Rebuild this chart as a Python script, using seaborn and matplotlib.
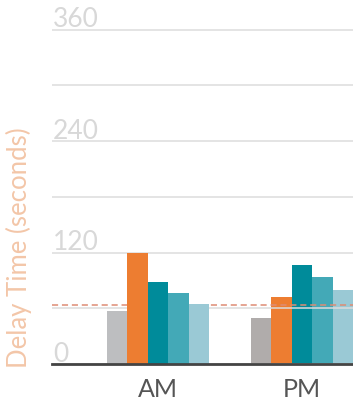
import matplotlib
matplotlib.use("Agg")
import matplotlib.pyplot as plt
import matplotlib.transforms as mtransforms
import seaborn as sns
import pandas as pd

# ---- data ----
periods = ["AM", "PM"]
series = ["Baseline", "Option 1", "Option 2", "Option 3", "Option 4"]
am_values = [57, 120, 88, 77, 65]
pm_values = [50, 72, 107, 94, 80]
reference_value = 63.6
y_gridlines = [0, 60, 120, 180, 240, 300, 360]
y_labels = [0, 120, 240, 360]
y_title = "Delay Time (seconds)"

colors = ["#bdbec0", "#ed7d31", "#008b9a", "#43a9b7", "#9ac9d5"]
pm_gray = "#b0acab"

rows = []
for p, vals in zip(periods, [am_values, pm_values]):
    for s, v in zip(series, vals):
        rows.append({"period": p, "series": s, "value": v})
df = pd.DataFrame(rows)

sns.set_theme(style="white")
plt.rcParams["font.family"] = ["Lato", "DejaVu Sans"]

W, H = 353, 403
fig = plt.figure(figsize=(W / 100, H / 100), dpi=100)
left_px, bottom_px = 52, 39
ax = fig.add_axes([left_px / W, bottom_px / H, 1 - left_px / W, 1 - bottom_px / H])

sns.barplot(data=df, x="period", y="value", hue="series", order=periods,
            hue_order=series, palette=colors, width=0.71, saturation=1,
            gap=0, legend=False, ax=ax, errorbar=None)

# AM bars above the lines, PM bars below; PM gray slightly warmer
for container in ax.containers:
    bars = list(container)
    bars[0].set_zorder(3)
    bars[1].set_zorder(1)
ax.containers[0][1].set_facecolor(pm_gray)
for p in ax.patches:
    p.set_edgecolor("none")
    p.set_linewidth(0)

ax.set_xlim(-0.736, 1.354)
ax.set_ylim(0, 392)

ax.set_yticks(y_gridlines)
ax.set_yticklabels([])
ax.tick_params(axis="y", length=0)
ax.yaxis.grid(True, color="#dcdcdc", linewidth=1.1)
ax.set_axisbelow(False)

ax.axhline(reference_value, color="#de8c74", linestyle=(0, (4, 2.5)),
           linewidth=1.1, zorder=2.6)

offset = mtransforms.ScaledTranslation(0, 2.5 / 100, fig.dpi_scale_trans)
trans = mtransforms.blended_transform_factory(ax.transAxes, ax.transData) + offset
for v in y_labels:
    ax.text(0.004, v, str(v), transform=trans, ha="left", va="baseline",
            fontsize=19, color="#d8d8d8", zorder=4)

ax.set_xlabel("")
ax.set_ylabel("")
ax.tick_params(axis="x", length=0, pad=10, labelsize=18, labelcolor="#555555")

for side in ["top", "right", "left"]:
    ax.spines[side].set_visible(False)
ax.spines["bottom"].set_color("#444444")
ax.spines["bottom"].set_linewidth(2)
ax.spines["bottom"].set_zorder(5)

fig.text(19 / W, 1 - 248 / H, y_title, rotation=90, ha="center", va="center",
         fontsize=18.5, color="#f3c6a8")

fig.savefig("out.png", dpi=100)
